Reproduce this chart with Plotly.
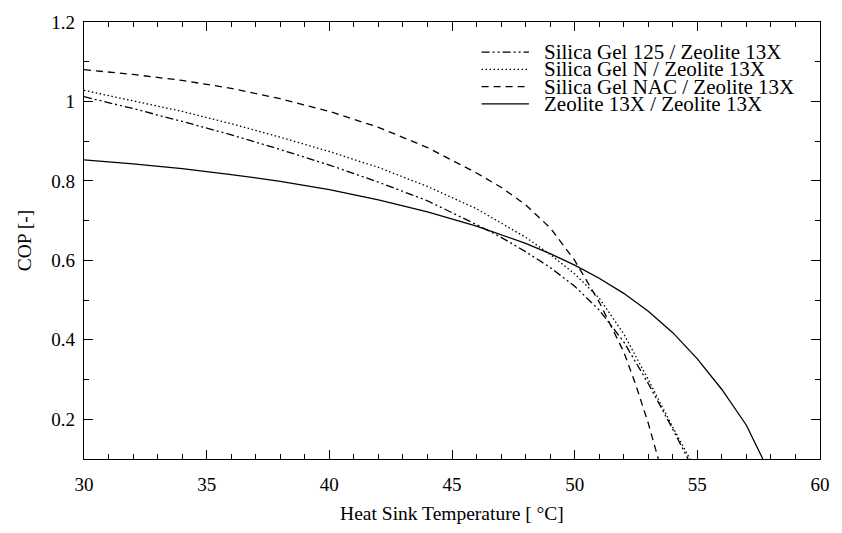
import plotly.graph_objects as go

# ---- data ----
T_sg125 = [30, 32, 34, 36, 38, 40, 42, 44, 46, 47, 48, 49, 50, 51, 52, 53, 54, 54.62]
COP_sg125 = [1.012, 0.982, 0.950, 0.916, 0.879, 0.840, 0.797, 0.750, 0.690, 0.658,
             0.622, 0.582, 0.535, 0.475, 0.395, 0.290, 0.175, 0.100]

T_sgn = [30, 32, 34, 36, 38, 40, 42, 44, 46, 48, 49, 50, 51, 52, 53, 54, 54.7]
COP_sgn = [1.028, 1.002, 0.975, 0.944, 0.910, 0.874, 0.834, 0.786, 0.730, 0.658,
           0.615, 0.566, 0.505, 0.415, 0.300, 0.180, 0.100]

T_nac = [30, 32, 34, 36, 38, 40, 42, 44, 46, 47, 48, 49, 50, 51, 52, 52.5, 53, 53.41]
COP_nac = [1.080, 1.068, 1.053, 1.033, 1.007, 0.975, 0.935, 0.884, 0.820, 0.784,
           0.740, 0.682, 0.600, 0.495, 0.370, 0.285, 0.190, 0.100]

T_zeo = [30, 32, 34, 36, 38, 40, 42, 44, 46, 47, 48, 49, 50, 51, 52, 53, 54, 55, 56, 57, 57.67]
COP_zeo = [0.853, 0.843, 0.831, 0.816, 0.799, 0.778, 0.752, 0.722, 0.686, 0.665,
           0.643, 0.617, 0.588, 0.555, 0.517, 0.472, 0.418, 0.352, 0.275, 0.185, 0.100]

labels = ["Silica Gel 125 / Zeolite 13X", "Silica Gel N / Zeolite 13X",
          "Silica Gel NAC / Zeolite 13X", "Zeolite 13X / Zeolite 13X"]
x_ticks = [30, 35, 40, 45, 50, 55, 60]
y_ticks = [0.2, 0.4, 0.6, 0.8, 1.0, 1.2]
y_ticktext = ["0.2", "0.4", "0.6", "0.8", "1", "1.2"]

# ---- styles ----
dashes = ["8px,3px,2px,3px,2px,3px", "1.5px,2.5px", "7px,5px", "solid"]
FONT = "Liberation Serif"
W, H = 842, 533
L, R, T, B = 84, 12, 14, 70
pw, ph = W - L - R, H - T - B

series = [(T_sg125, COP_sg125), (T_sgn, COP_sgn), (T_nac, COP_nac), (T_zeo, COP_zeo)]

fig = go.Figure()
for (xs, ys), name, d in zip(series, labels, dashes):
    fig.add_trace(go.Scatter(x=xs, y=ys, mode="lines", name=name,
                             line=dict(color="black", width=1.3, dash=d),
                             showlegend=False))

# manual legend (compact rows like the reference)
def px_x(p):
    return (p - L) / pw

def px_y(p):
    return (H - B - p) / ph

row0, row_gap = 45, 17.7
for i, (name, d) in enumerate(zip(labels, dashes)):
    yy = px_y(row0 + i * row_gap)
    fig.add_shape(type="line", xref="paper", yref="paper",
                  x0=px_x(487), x1=px_x(535), y0=yy, y1=yy,
                  line=dict(color="black", width=1.3, dash=d))
    fig.add_annotation(xref="paper", yref="paper", x=px_x(548), y=yy,
                       text=name, showarrow=False, xanchor="left", yanchor="middle",
                       font=dict(family=FONT, size=21, color="black"))

axis_common = dict(
    ticks="inside", ticklen=9, tickwidth=1, tickcolor="black",
    showline=True, linecolor="black", linewidth=1.3, mirror="allticks",
    showgrid=False, zeroline=False,
    tickfont=dict(family=FONT, size=19, color="black"),
)

fig.update_xaxes(range=[30, 60], tickvals=x_ticks, ticklabelstandoff=8,
                 minor=dict(dtick=1, tick0=30, ticks="inside", ticklen=4.5,
                            tickcolor="black", showgrid=False),
                 title=dict(text="Heat Sink Temperature [ °C]",
                            font=dict(family=FONT, size=19.5, color="black"), standoff=12),
                 **axis_common)
fig.update_yaxes(range=[0.1, 1.2], tickvals=y_ticks, ticktext=y_ticktext,
                 ticklabelstandoff=4,
                 minor=dict(dtick=0.1, tick0=0.1, ticks="inside", ticklen=4.5,
                            tickcolor="black", showgrid=False),
                 title=dict(text="COP [-]",
                            font=dict(family=FONT, size=19.5, color="black"), standoff=14),
                 **axis_common)

fig.update_layout(width=W, height=H, margin=dict(l=L, r=R, t=T, b=B),
                  plot_bgcolor="white", paper_bgcolor="white", showlegend=False)

# the page's default 8px body margin would shift the chart; remove it
fig.write_html("out.html", config={"displayModeBar": False},
               post_script="document.body.style.margin='0';")
